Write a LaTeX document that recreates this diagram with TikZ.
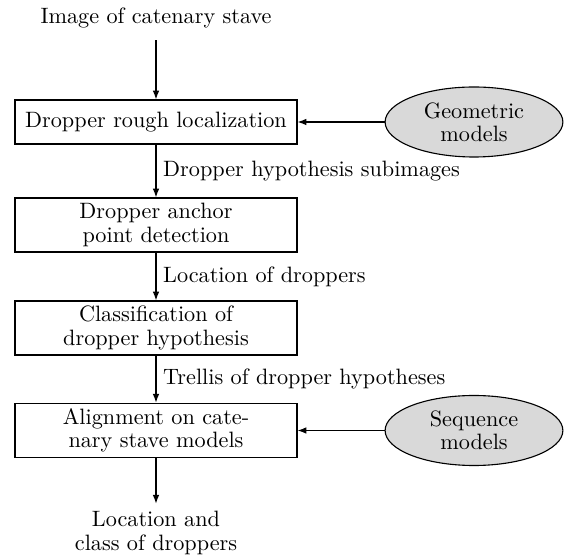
\documentclass[tikz,border=0pt]{standalone}
\usetikzlibrary{shapes.geometric,arrows.meta}
\begin{document}
\begin{tikzpicture}[x=0.45pt,y=-0.45pt,
  every node/.style={font=\fontsize{10}{10.4}\selectfont},
  procbox/.style={draw,line width=0.5pt,minimum width=126.9pt,inner sep=1pt,align=center},
  modelell/.style={ellipse,draw,line width=0.5pt,fill=gray!30,minimum width=80pt,minimum height=31.5pt,inner sep=0pt,align=center},
  flow/.style={line width=0.5pt,-{Latex[length=4pt,width=3pt]}},
  lbl/.style={right,inner sep=3pt}]
\useasboundingbox (0,0) rectangle (564,556);
\node (top) at (156,18) {Image of catenary stave};
\node[procbox,minimum height=19.8pt] (b1) at (156,122) {Dropper rough localization};
\node[procbox,minimum height=24.3pt] (b2) at (156,225) {Dropper anchor\\point detection};
\node[procbox,minimum height=24.3pt] (b3) at (156,328) {Classification of\\dropper hypothesis};
\node[procbox,minimum height=24.5pt] (b4) at (156,430.5) {Alignment on cate-\\nary stave models};
\node[align=center] (bot) at (156,533) {Location and\\class of droppers};
\node[modelell] (e1) at (474,122) {Geometric\\models};
\node[modelell] (e2) at (474,430.5) {Sequence\\models};
\draw[flow,shorten <=2pt] (top) -- (b1);
\draw[flow] (b1) -- node[lbl] {Dropper hypothesis subimages} (b2);
\draw[flow] (b2) -- node[lbl] {Location of droppers} (b3);
\draw[flow] (b3) -- node[lbl] {Trellis of dropper hypotheses} (b4);
\draw[flow] (b4) -- (bot);
\draw[flow] (e1) -- (b1);
\draw[flow] (e2) -- (b4);
\end{tikzpicture}
\end{document}
